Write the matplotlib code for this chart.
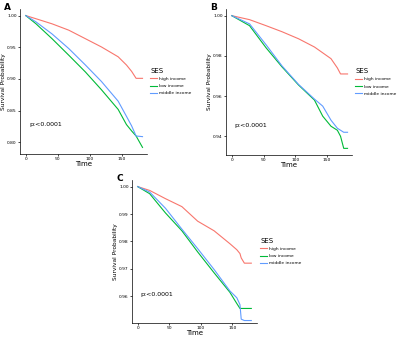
import numpy as np
import matplotlib
matplotlib.use("Agg")
import matplotlib.pyplot as plt

# survival curves (time, survival probability)
# panel A
a_time = [0, 16, 41, 67, 93, 118, 144, 157, 165, 172, 182]
a_high = [1.0, 0.995, 0.987, 0.977, 0.9635, 0.9505, 0.935, 0.922, 0.912, 0.901, 0.901]
a_low = [1.0, 0.987, 0.9635, 0.9375, 0.911, 0.883, 0.852, 0.828, 0.818, 0.81, 0.792]
a_mid = [1.0, 0.99, 0.971, 0.948, 0.922, 0.896, 0.865, 0.841, 0.826, 0.81, 0.809]

# panel B
b_time = [0, 28, 54, 79, 105, 130, 143, 156, 166, 171, 176, 182]
b_high = [1.0, 0.998, 0.995, 0.992, 0.9885, 0.9844, 0.9815, 0.9786, 0.974, 0.971, 0.971, 0.971]
b_low = [1.0, 0.995, 0.984, 0.9745, 0.9655, 0.958, 0.95, 0.945, 0.943, 0.94, 0.934, 0.934]
b_mid = [1.0, 0.9959, 0.9855, 0.975, 0.9658, 0.9585, 0.955, 0.948, 0.944, 0.943, 0.942, 0.942]

# panel C
c_time = [0, 19, 44, 70, 95, 121, 146, 157, 162, 164, 169, 180]
c_high = [1.0, 0.9986, 0.9956, 0.9927, 0.9874, 0.9839, 0.9792, 0.977, 0.9756, 0.974, 0.9721, 0.9721]
c_low = [1.0, 0.9974, 0.9904, 0.9839, 0.9762, 0.9686, 0.9615, 0.9574, 0.9556, 0.9556, 0.9556, 0.9556]
c_mid = [1.0, 0.998, 0.9921, 0.9845, 0.9774, 0.9698, 0.962, 0.9595, 0.957, 0.9517, 0.9512, 0.9512]

groups = ["high income", "low income", "middle income"]
colors = ["#F8766D", "#00BA38", "#619CFF"]

W, H = 400, 338


def px_rect(left, top, right, bottom):
    return [left / W, 1 - bottom / H, (right - left) / W, (bottom - top) / H]


panels = [
    ("A", a_time, [a_high, a_low, a_mid], [1.00, 0.95, 0.90, 0.85, 0.80], (0.7816, 1.0104),
     px_rect(20, 9, 147, 154)),
    ("B", b_time, [b_high, b_low, b_mid], [1.00, 0.98, 0.96, 0.94], (0.9307, 1.0033),
     px_rect(226, 9, 352, 155)),
    ("C", c_time, [c_high, c_low, c_mid], [1.00, 0.99, 0.98, 0.97, 0.96], (0.9503, 1.0024),
     px_rect(132, 180, 257, 323)),
]

fig = plt.figure(figsize=(W / 100, H / 100), dpi=100)

for label, t, curves, yticks, ylim, rect in panels:
    ax = fig.add_axes(rect)
    for y, c, g in zip(curves, colors, groups):
        ax.plot(t, y, color=c, lw=0.8, label=g)
    ax.set_xlim(-9, 189)
    ax.set_ylim(*ylim)
    ax.set_xticks([0, 50, 100, 150])
    ax.set_yticks(yticks)
    ax.set_yticklabels([f"{v:.2f}" for v in yticks])
    for s in ["top", "right"]:
        ax.spines[s].set_visible(False)
    for s in ["left", "bottom"]:
        ax.spines[s].set_linewidth(0.5)
    ax.tick_params(labelsize=3.2, width=0.5, length=1.5, pad=0.8)
    ax.set_xlabel("Time", fontsize=5, labelpad=0)
    ax.set_ylabel("Survival Probability", fontsize=4.2, labelpad=0.8)
    ax.text(0.07, 0.19, "p:<0.0001", transform=ax.transAxes, fontsize=4.5)
    leg = ax.legend(title="SES", loc="center left", bbox_to_anchor=(1.0, 0.5),
                    frameon=False, fontsize=3.2, title_fontsize=5,
                    borderaxespad=0.3, handlelength=1.6, handletextpad=0.5,
                    labelspacing=0.7)
    leg._legend_box.align = "left"
    fig.text(rect[0] - 16 / W, rect[1] + rect[3] + 6 / H, label,
             fontsize=6.5, fontweight="bold", va="top", ha="left")

fig.savefig("out.png", dpi=100)
